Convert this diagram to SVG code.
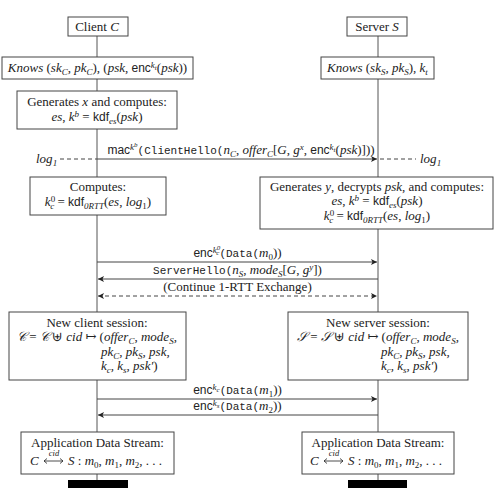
<svg xmlns="http://www.w3.org/2000/svg" width="498" height="490" viewBox="0 0 498 490">
<style>
.t{font-family:"Liberation Serif","DejaVu Serif",serif;font-size:13px;fill:#222}
.i{font-style:italic}
.sf{font-family:"Liberation Sans",sans-serif;font-size:12px;font-style:normal}
.tt{font-family:"Liberation Mono",monospace;font-size:11px;font-style:normal}
.sup{baseline-shift:4px;font-size:9px}
.sup2{baseline-shift:3px;font-size:7px}
.sub{baseline-shift:-2.5px;font-size:9px}
.sub2{baseline-shift:-2px;font-size:7px}
.box{fill:#fff;stroke:#444;stroke-width:1}
.life{stroke:#555;stroke-width:1;fill:none}
.msg{stroke:#444;stroke-width:1;fill:none}
.dash{stroke-dasharray:4 3}
</style>
<defs>
<marker id="ah" markerWidth="8" markerHeight="8" refX="6" refY="3" orient="auto" markerUnits="userSpaceOnUse">
<path d="M0,0 L6,3 L0,6 L1.5,3 Z" fill="#222"/>
</marker>
<marker id="ahs" markerWidth="8" markerHeight="8" refX="0" refY="3" orient="auto" markerUnits="userSpaceOnUse">
<path d="M6,0 L0,3 L6,6 L4.5,3 Z" fill="#222"/>
</marker>
</defs>
<rect width="498" height="490" fill="#fff"/>
<g id="lifelines">
<line class="life" x1="97" y1="36" x2="97" y2="481"/>
<line class="life" x1="378" y1="36" x2="378" y2="481"/>
</g>
<g id="connectors">
<line class="msg" x1="97" y1="159" x2="377" y2="159" marker-end="url(#ah)"/>
<line class="msg dash" x1="60" y1="159" x2="97" y2="159"/>
<line class="msg dash" x1="380" y1="159" x2="416" y2="159"/>
<text class="t i" x="36" y="163">log<tspan class="sub">1</tspan></text>
<text class="t i" x="420" y="163">log<tspan class="sub">1</tspan></text>
<text class="t" x="241" y="154" text-anchor="middle"><tspan class="sf">mac</tspan><tspan class="sup i">k<tspan class="sup2">b</tspan></tspan><tspan class="tt">(ClientHello(</tspan><tspan class="i">n</tspan><tspan class="sub i">C</tspan>, <tspan class="i">offer</tspan><tspan class="sub i">C</tspan>[<tspan class="i">G</tspan>, <tspan class="i">g</tspan><tspan class="sup i">x</tspan>, <tspan class="sf">enc</tspan><tspan class="sup i">k<tspan class="sub2">t</tspan></tspan>(<tspan class="i">psk</tspan>)]))</text>
<line class="msg" x1="97" y1="262" x2="377" y2="262" marker-end="url(#ah)"/>
<text class="t" x="237.5" y="257" text-anchor="middle"><tspan class="sf">enc</tspan><tspan class="sup i">k<tspan class="sup2">0</tspan><tspan class="sub2" dx="-4">c</tspan></tspan><tspan class="tt">(Data(</tspan><tspan class="i">m</tspan><tspan class="sub">0</tspan>))</text>
<line class="msg" x1="378" y1="279" x2="98" y2="279" marker-end="url(#ah)"/>
<text class="t" x="237.5" y="274" text-anchor="middle"><tspan class="tt">ServerHello(</tspan><tspan class="i">n</tspan><tspan class="sub i">S</tspan>, <tspan class="i">mode</tspan><tspan class="sub i">S</tspan>[<tspan class="i">G</tspan>, <tspan class="i">g</tspan><tspan class="sup i">y</tspan>])</text>
<line class="msg dash" x1="98" y1="296" x2="377" y2="296" marker-end="url(#ah)" marker-start="url(#ahs)"/>
<text class="t" x="237.5" y="291" text-anchor="middle">(Continue 1-RTT Exchange)</text>
<line class="msg" x1="97" y1="399" x2="377" y2="399" marker-end="url(#ah)"/>
<text class="t" x="237.5" y="394" text-anchor="middle"><tspan class="sf">enc</tspan><tspan class="sup i">k<tspan class="sub2">c</tspan></tspan><tspan class="tt">(Data(</tspan><tspan class="i">m</tspan><tspan class="sub">1</tspan>))</text>
<line class="msg" x1="378" y1="415" x2="98" y2="415" marker-end="url(#ah)"/>
<text class="t" x="237.5" y="410" text-anchor="middle"><tspan class="sf">enc</tspan><tspan class="sup i">k<tspan class="sub2">s</tspan></tspan><tspan class="tt">(Data(</tspan><tspan class="i">m</tspan><tspan class="sub">2</tspan>))</text>
</g>
<g id="client">
<rect class="box" x="68" y="17" width="60" height="19"/>
<text class="t" x="97" y="31" text-anchor="middle">Client <tspan class="i">C</tspan></text>
</g>
<g id="server">
<rect class="box" x="347" y="17" width="60" height="19"/>
<text class="t" x="377" y="31" text-anchor="middle">Server <tspan class="i">S</tspan></text>
</g>
<g id="client-knows">
<rect class="box" x="2" y="57" width="191" height="22"/>
<text class="t" x="97.5" y="72" text-anchor="middle"><tspan class="i">Knows</tspan> (<tspan class="i">sk</tspan><tspan class="sub i">C</tspan>, <tspan class="i">pk</tspan><tspan class="sub i">C</tspan>), (<tspan class="i">psk</tspan>, <tspan class="sf">enc</tspan><tspan class="sup i">k<tspan class="sub2">t</tspan></tspan>(<tspan class="i">psk</tspan>))</text>
</g>
<g id="server-knows">
<rect class="box" x="321" y="57" width="113" height="22"/>
<text class="t" x="377.5" y="72" text-anchor="middle"><tspan class="i">Knows</tspan> (<tspan class="i">sk</tspan><tspan class="sub i">S</tspan>, <tspan class="i">pk</tspan><tspan class="sub i">S</tspan>), <tspan class="i">k</tspan><tspan class="sub i">t</tspan></text>
</g>
<g id="client-generates">
<rect class="box" x="17" y="91" width="160" height="38"/>
<text class="t" x="97" y="106" text-anchor="middle">Generates <tspan class="i">x</tspan> and computes:</text>
<text class="t" x="97" y="121" text-anchor="middle"><tspan class="i">es</tspan>, <tspan class="i">k</tspan><tspan class="sup i">b</tspan> = <tspan class="sf">kdf</tspan><tspan class="sub i">es</tspan>(<tspan class="i">psk</tspan>)</text>
</g>
<g id="client-computes">
<rect class="box" x="30" y="177" width="136" height="38"/>
<text class="t" x="98" y="191" text-anchor="middle">Computes:</text>
<text class="t" x="98" y="206" text-anchor="middle"><tspan class="i">k</tspan><tspan class="sup">0</tspan><tspan class="sub i" dx="-5">c</tspan> = <tspan class="sf">kdf</tspan><tspan class="sub i">0RTT</tspan>(<tspan class="i">es</tspan>, <tspan class="i">log</tspan><tspan class="sub">1</tspan>)</text>
</g>
<g id="server-computes">
<rect class="box" x="260" y="177" width="233" height="52"/>
<text class="t" x="377" y="191" text-anchor="middle">Generates <tspan class="i">y</tspan>, decrypts <tspan class="i">psk</tspan>, and computes:</text>
<text class="t" x="377" y="205" text-anchor="middle"><tspan class="i">es</tspan>, <tspan class="i">k</tspan><tspan class="sup i">b</tspan> = <tspan class="sf">kdf</tspan><tspan class="sub i">es</tspan>(<tspan class="i">psk</tspan>)</text>
<text class="t" x="377" y="220" text-anchor="middle"><tspan class="i">k</tspan><tspan class="sup">0</tspan><tspan class="sub i" dx="-5">c</tspan> = <tspan class="sf">kdf</tspan><tspan class="sub i">0RTT</tspan>(<tspan class="i">es</tspan>, <tspan class="i">log</tspan><tspan class="sub">1</tspan>)</text>
</g>
<g id="client-session">
<rect class="box" x="9" y="312" width="177" height="68"/>
<text class="t" x="97" y="327" text-anchor="middle">New client session:</text>
<text class="t" x="17" y="341"><tspan class="i">𝒞</tspan> = <tspan class="i">𝒞</tspan> ⊎ <tspan class="i">cid</tspan> ↦ (<tspan class="i">offer</tspan><tspan class="sub i">C</tspan>, <tspan class="i">mode</tspan><tspan class="sub i">S</tspan>,</text>
<text class="t i" x="101" y="356">pk<tspan class="sub">C</tspan>, pk<tspan class="sub">S</tspan>, psk,</text>
<text class="t i" x="101" y="370">k<tspan class="sub">c</tspan>, k<tspan class="sub">s</tspan>, psk′<tspan style="font-style:normal">)</tspan></text>
</g>
<g id="server-session">
<rect class="box" x="288" y="312" width="180" height="68"/>
<text class="t" x="378" y="327" text-anchor="middle">New server session:</text>
<text class="t" x="297" y="341"><tspan class="i">𝒮</tspan> = <tspan class="i">𝒮</tspan> ⊎ <tspan class="i">cid</tspan> ↦ (<tspan class="i">offer</tspan><tspan class="sub i">C</tspan>, <tspan class="i">mode</tspan><tspan class="sub i">S</tspan>,</text>
<text class="t i" x="381" y="356">pk<tspan class="sub">C</tspan>, pk<tspan class="sub">S</tspan>, psk,</text>
<text class="t i" x="381" y="370">k<tspan class="sub">c</tspan>, k<tspan class="sub">s</tspan>, psk′<tspan style="font-style:normal">)</tspan></text>
</g>
<g id="client-stream">
<rect class="box" x="21" y="432" width="153" height="42"/>
<text class="t" x="97.5" y="447" text-anchor="middle">Application Data Stream:</text>
<text class="t i" x="30" y="465">C</text>
<path d="M44,461 H63 M47,458.5 L44,461 L47,463.5 M60,458.5 L63,461 L60,463.5" stroke="#222" stroke-width="0.8" fill="none"/>
<text class="t i" x="54" y="456" text-anchor="middle" style="font-size:8.5px">cid</text>
<text class="t" x="68" y="465"><tspan class="i">S</tspan> : <tspan class="i">m</tspan><tspan class="sub">0</tspan>, <tspan class="i">m</tspan><tspan class="sub">1</tspan>, <tspan class="i">m</tspan><tspan class="sub">2</tspan>, . . .</text>
</g>
<g id="server-stream">
<rect class="box" x="302" y="432" width="152" height="42"/>
<text class="t" x="378" y="447" text-anchor="middle">Application Data Stream:</text>
<text class="t i" x="310" y="465">C</text>
<path d="M324,461 H343 M327,458.5 L324,461 L327,463.5 M340,458.5 L343,461 L340,463.5" stroke="#222" stroke-width="0.8" fill="none"/>
<text class="t i" x="334" y="456" text-anchor="middle" style="font-size:8.5px">cid</text>
<text class="t" x="348" y="465"><tspan class="i">S</tspan> : <tspan class="i">m</tspan><tspan class="sub">0</tspan>, <tspan class="i">m</tspan><tspan class="sub">1</tspan>, <tspan class="i">m</tspan><tspan class="sub">2</tspan>, . . .</text>
</g>
<g id="client-end">
<rect x="68" y="480" width="60" height="8" fill="#000"/>
</g>
<g id="server-end">
<rect x="348" y="480" width="59" height="8" fill="#000"/>
</g>
</svg>
